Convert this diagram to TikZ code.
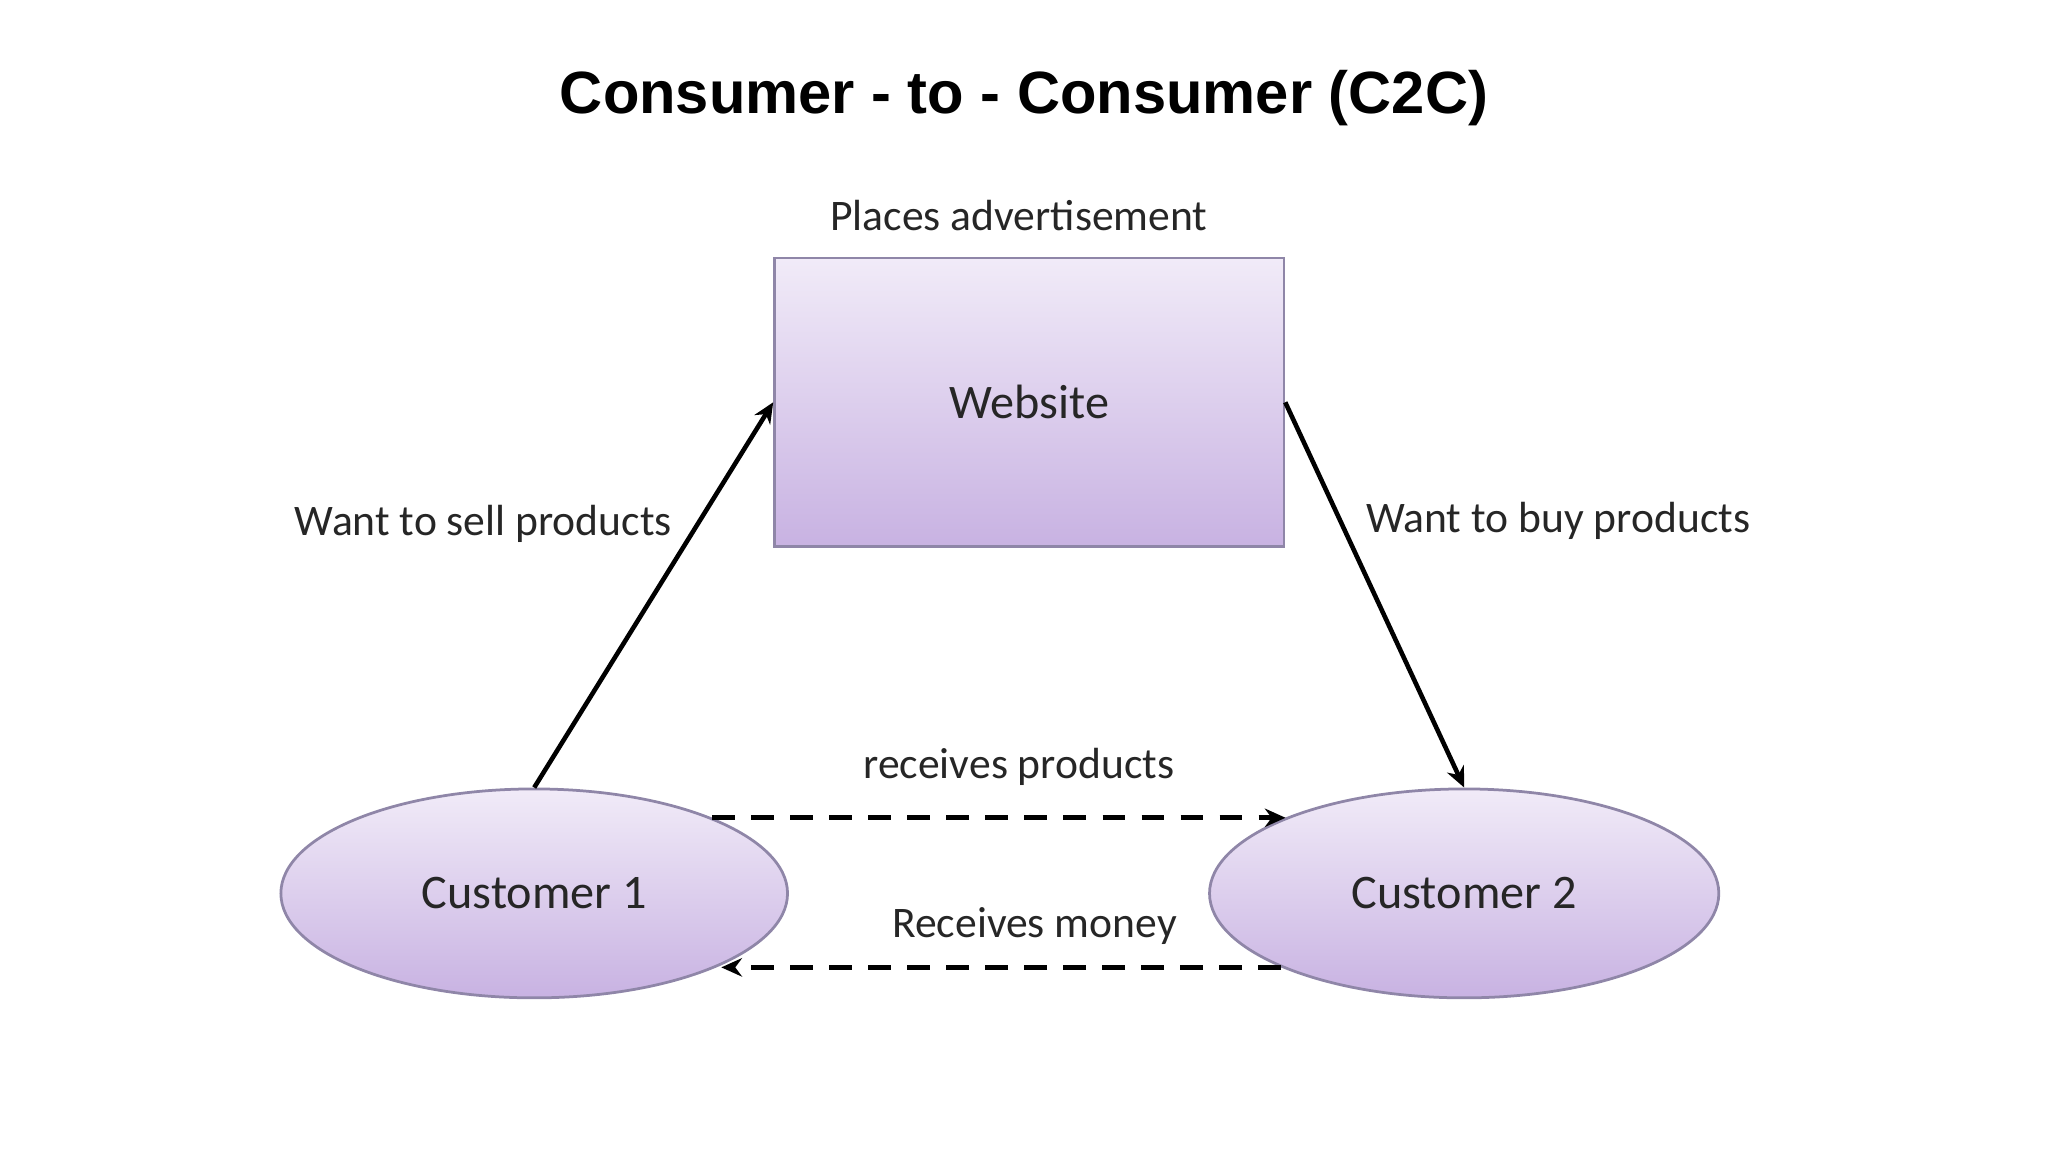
\documentclass[tikz,border=0pt]{standalone}
\usepackage{fontspec}
\setmainfont{Carlito}
\newfontfamily\titlefont{Liberation Sans}
\usetikzlibrary{shapes.geometric,arrows.meta}
\definecolor{topc}{HTML}{F1EBF8}
\definecolor{botc}{HTML}{C8B2E2}
\definecolor{edgec}{HTML}{8F86A8}
\begin{document}
\begin{tikzpicture}[x=0.02cm,y=-0.02cm,
  box/.style={draw=edgec,line width=1.2pt,top color=topc,bottom color=botc,font=\fontsize{21}{24}\selectfont,text=black!85},
  lbl/.style={font=\fontsize{19}{22}\selectfont,text=black!85},
  arr/.style={line width=2pt,-{Stealth[length=9pt,width=8pt]}},
  dsh/.style={line width=2.2pt,dash pattern=on 10pt off 7pt,-{Stealth[length=9pt,width=8pt]}}]
\useasboundingbox (0,0) rectangle (1568,882);
\node[font=\titlefont\bfseries\fontsize{26}{30}\selectfont] (title) at (784,75) {Consumer - to - Consumer (C2C)};
\node[box,rectangle,minimum width=7.8cm,minimum height=4.42cm] (web) at (788,308) {Website};
\node[box,ellipse,minimum width=7.76cm,minimum height=3.2cm] (c1) at (409,684) {Customer 1};
\node[box,ellipse,minimum width=7.8cm,minimum height=3.2cm] (c2) at (1121,684) {Customer 2};
\node[lbl] (l1) at (780,165) {Places advertisement};
\node[lbl] (l2) at (370,401) {Want to sell products};
\node[lbl] (l3) at (1193,399) {Want to buy products};
\node[lbl] (l4) at (780,587) {receives products};
\node[lbl] (l5) at (792,709) {Receives money};
\draw[arr] (c1.north) -- (web.west);
\draw[arr] (web.east) -- (c2.north);
\draw[dsh] (c1.23.5) -- (c1.23.5 -| c2.157.2);
\draw[dsh] (c2.202) -- (c2.202 -| c1.-21.8);
\end{tikzpicture}
\end{document}
